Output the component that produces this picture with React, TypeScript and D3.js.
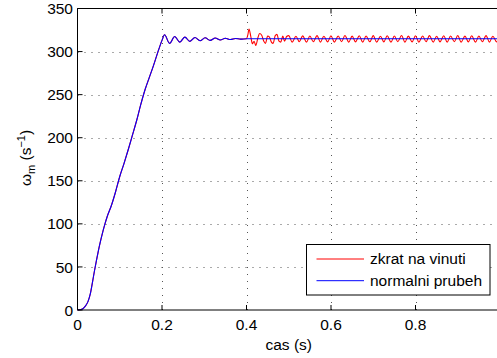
import React from 'react'
import * as d3 from 'd3'

// time axis ticks and value axis ticks
const xTicks = [0, 0.2, 0.4, 0.6, 0.8, 1]
const xTickLabels = ['0', '0.2', '0.4', '0.6', '0.8', '']
const yTicks = [0, 50, 100, 150, 200, 250, 300, 350]

// normalni prubeh (start-up, then settles)
const normalPoints: [number, number][] = [
  [0, 0], [0.005, 0.2], [0.01, 0.8], [0.015, 2.5], [0.02, 5.5], [0.025, 10],
  [0.03, 18], [0.035, 31], [0.04, 45], [0.045, 58], [0.05, 70], [0.055, 81],
  [0.06, 91], [0.065, 100], [0.07, 108], [0.08, 121], [0.09, 137], [0.1, 155],
  [0.11, 170], [0.12, 186], [0.13, 203], [0.14, 220], [0.15, 239], [0.16, 256],
  [0.17, 270], [0.18, 284], [0.19, 299], [0.2, 313], [0.206, 319.5],
  [0.218, 309.5], [0.23, 317.5], [0.242, 311], [0.254, 316.8], [0.266, 311.8],
  [0.278, 316.3], [0.29, 312.5], [0.302, 316], [0.314, 313], [0.326, 315.7],
  [0.338, 313.5], [0.35, 315.4], [0.362, 314], [0.374, 315.2], [0.386, 314.4],
  [0.4, 314.8], [0.6, 314.8], [0.8, 314.8], [1, 314.8],
]

// zkrat na vinuti (same as normal up to 0.4 s)
const faultPoints: [number, number][] = [
  [0.4, 314.8], [0.403, 319], [0.406, 326], [0.41, 318], [0.414, 309],
  [0.418, 312], [0.422, 307], [0.427, 316], [0.431, 321], [0.436, 319],
  [0.441, 312], [0.445, 309.5], [0.45, 318], [0.454, 317], [0.459, 311],
  [0.463, 309.5], [0.468, 318.5], [0.472, 320], [0.477, 312], [0.481, 311],
  [0.486, 318], [0.49, 312], [0.495, 317.5],
  [0.5, 318.5], [0.508, 311], [0.517, 317.8], [0.525, 311.5], [0.533, 318.2],
  [0.542, 311], [0.55, 318], [0.558, 311.4], [0.567, 318.5], [0.575, 311],
  [0.583, 317.8], [0.592, 311.3], [0.6, 318.3], [0.608, 311], [0.617, 318],
  [0.625, 311.5], [0.633, 318.6], [0.642, 311], [0.65, 317.9], [0.658, 311.3],
  [0.667, 318.3], [0.675, 311], [0.683, 318], [0.692, 311.4], [0.7, 318.5],
  [0.708, 311], [0.717, 317.8], [0.725, 311.3], [0.733, 318.3], [0.742, 311],
  [0.75, 318], [0.758, 311.5], [0.767, 318.6], [0.775, 311], [0.783, 317.9],
  [0.792, 311.3], [0.8, 318.3], [0.808, 311], [0.817, 318], [0.825, 311.4],
  [0.833, 318.5], [0.842, 311], [0.85, 317.8], [0.858, 311.3], [0.867, 318.3],
  [0.875, 311], [0.883, 318], [0.892, 311.5], [0.9, 318.6], [0.908, 311],
  [0.917, 317.9], [0.925, 311.3], [0.933, 318.3], [0.942, 311], [0.95, 318],
  [0.958, 311.4], [0.967, 318.5], [0.975, 311], [0.983, 317.8], [0.992, 311.3],
  [1, 318.3],
]

const seriesNames = ['zkrat na vinuti', 'normalni prubeh']
const seriesColors = ['#ff0000', '#0000ff']

const W = 497
const H = 358
const font = 'Liberation Sans, Arial, Helvetica, sans-serif'

export default function App() {
  const x = d3.scaleLinear().domain([0, 1]).range([77.5, 500])
  const y = d3.scaleLinear().domain([0, 350]).range([310, 8.5])

  const line = d3
    .line<[number, number]>()
    .x((d) => x(d[0]))
    .y((d) => y(d[1]))
    .curve(d3.curveMonotoneX)

  const redData = normalPoints.filter((d) => d[0] < 0.4).concat(faultPoints)

  const [x0, x1] = x.range()
  const [yb, yt] = y.range()

  return (
    <svg
      width={W}
      height={H}
      style={{ position: 'absolute', left: 0, top: 0, background: '#fff' }}
      fontFamily={font}
    >
      <rect width={W} height={H} fill="#fff" />
      {/* grid */}
      <g stroke="#555" strokeWidth={1} strokeDasharray="1,6">
        {xTicks.slice(1).map((t) => (
          <line key={'gx' + t} x1={Math.round(x(t)) + 0.5} x2={Math.round(x(t)) + 0.5} y1={yb} y2={yt} />
        ))}
        {yTicks.slice(1, -1).map((t) => (
          <line key={'gy' + t} x1={x0} x2={x1} y1={Math.round(y(t)) + 0.5} y2={Math.round(y(t)) + 0.5} />
        ))}
      </g>

      {/* series */}
      <path d={line(redData) || ''} fill="none" stroke={seriesColors[0]} strokeWidth={1.1} />
      <path d={line(normalPoints) || ''} fill="none" stroke={seriesColors[1]} strokeWidth={1.1} />

      {/* box */}
      <g stroke="#000" strokeWidth={1} fill="none">
        <line x1={x0} x2={x1} y1={yb} y2={yb} />
        <line x1={x0} x2={x1} y1={yt} y2={yt} />
        <line x1={x0} x2={x0} y1={yb} y2={yt} />
        {xTicks.map((t) => (
          <g key={'tx' + t}>
            <line x1={x(t)} x2={x(t)} y1={yb} y2={yb - 5} />
            <line x1={x(t)} x2={x(t)} y1={yt} y2={yt + 5} />
          </g>
        ))}
        {yTicks.map((t) => (
          <line key={'ty' + t} x1={x0} x2={x0 + 5} y1={y(t)} y2={y(t)} />
        ))}
      </g>

      {/* tick labels */}
      <g fontSize={15.5} fill="#000">
        {xTicks.map((t, i) => (
          <text key={'lx' + t} x={x(t)} y={330} textAnchor="middle">
            {xTickLabels[i]}
          </text>
        ))}
        {yTicks.map((t) => (
          <text key={'ly' + t} x={73} y={y(t)} dy="0.36em" textAnchor="end">
            {t}
          </text>
        ))}
      </g>

      {/* axis labels */}
      <text x={288.75} y={350} fontSize={15.5} textAnchor="middle">
        cas (s)
      </text>
      <text transform="translate(31,158) rotate(-90)" fontSize={15.5} textAnchor="middle">
        ω
        <tspan fontSize={11} dy={4}>m</tspan>
        <tspan dy={-4}> (s</tspan>
        <tspan fontSize={11} dy={-6}>−1</tspan>
        <tspan dy={6}>)</tspan>
      </text>

      {/* legend */}
      <rect x={306.5} y={244.5} width={183.5} height={50.5} fill="#fff" stroke="#000" strokeWidth={1} />
      {seriesNames.map((n, i) => (
        <g key={n}>
          <line x1={316.5} x2={364} y1={259 + i * 21.7} y2={259 + i * 21.7} stroke={seriesColors[i]} strokeWidth={1} />
          <text x={370} y={259 + i * 21.7} dy="0.35em" fontSize={15.5}>
            {n}
          </text>
        </g>
      ))}
    </svg>
  )
}
